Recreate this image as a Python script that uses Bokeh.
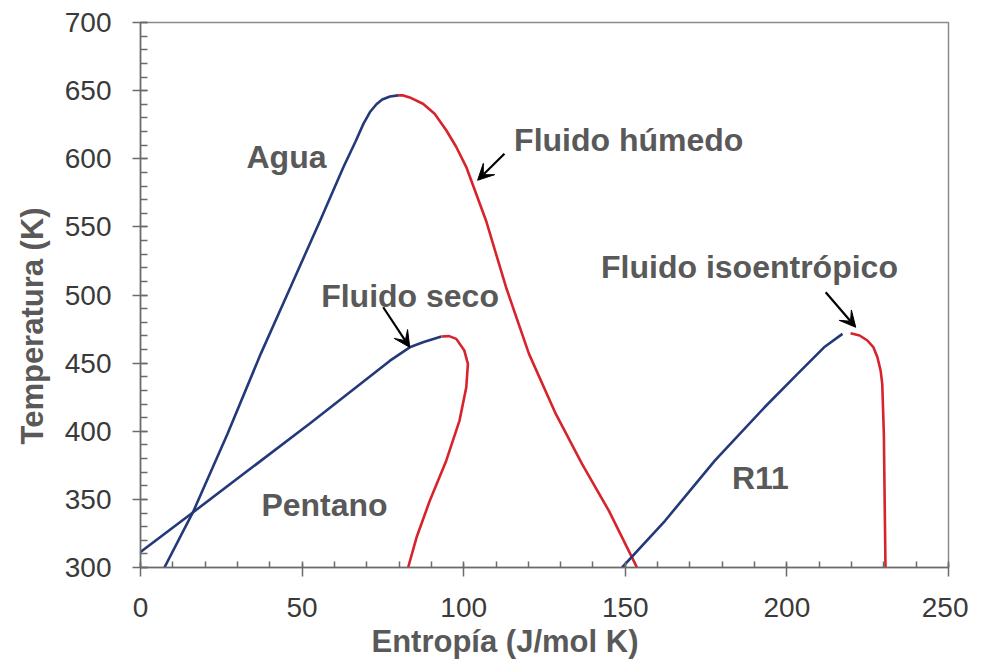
from bokeh.plotting import figure
from bokeh.models import Arrow, VeeHead, Title, Label, SingleIntervalTicker, Range1d
from bokeh.embed import file_html
from bokeh.resources import INLINE

# ---- data (entropy J/mol K, temperature K) ----
agua_liq_s = [7.4, 16.2, 26.9, 37.2, 46.4, 55.6, 62.8, 66.5, 69.0, 71.0, 73.0, 74.8, 77.2, 79.7]
agua_liq_T = [300, 340.4, 398, 456.8, 505.7, 554.7, 593.9, 612.5, 625.8, 634.3, 640.0, 643.5, 645.7, 646.5]
agua_vap_s = [79.7, 81.3, 83.3, 87.4, 91.0, 94.6, 97.7, 100.8, 106.9, 113.1, 120.2, 128.5, 136.6, 144.9, 153.1, 153.6]
agua_vap_T = [646.5, 646.5, 645.0, 640.4, 633.0, 620.9, 608.6, 593.9, 554.7, 505.7, 456.8, 412.7, 376, 341.7, 302.5, 300]

pent_liq_s = [0.0, 16.2, 52.6, 77.2, 83.3, 87.4, 93.1]
pent_liq_T = [311.4, 340.4, 406, 451.8, 461.6, 465.3, 469.5]
pent_vap_s = [93.1, 95.5, 97.7, 100.2, 101.3, 100.8, 98.7, 94.6, 89.5, 85.4, 82.8]
pent_vap_T = [469.5, 469.8, 467.8, 459.2, 449.4, 432.3, 407.8, 378.4, 349, 322, 300]

r11_liq_s = [149.0, 162.3, 177.7, 193.1, 203.3, 211.5, 217.2]
r11_liq_T = [300, 334.3, 378.4, 417.6, 442.1, 461.6, 471.5]
r11_vap_s = [219.7, 222.5, 224.9, 226.8, 228.0, 229.0, 229.5, 230.0, 230.5]
r11_vap_T = [471.9, 470.3, 466.6, 461.5, 454.3, 444.5, 434.8, 398, 300]

# annotations: (text, s, T) baseline-left
labels_txt = ["Agua", "Fluido húmedo", "Fluido seco", "Pentano", "Fluido isoentrópico", "R11"]
labels_s = [32.8, 115.6, 55.9, 37.4, 142.5, 183.0]
labels_T = [601.2, 613.5, 499.4, 345.6, 520.7, 365.6]

arrows_s0 = [112.6, 75.1, 212.0]
arrows_T0 = [603.7, 491.0, 502.0]
arrows_s1 = [104.3, 83.3, 221.3]
arrows_T1 = [584.2, 461.6, 476.3]

x_ticks_interval = 50
y_ticks_interval = 50

BLUE = "#24397a"
RED = "#d7232b"
TXT = "#595959"
AX = "#6b6b6b"

p = figure(width=968, height=665, output_backend="svg", toolbar_location=None,
           x_range=Range1d(0, 250), y_range=Range1d(300, 700),
           min_border_left=139, min_border_right=20, min_border_top=22, min_border_bottom=98)
p.background_fill_color = "white"
p.border_fill_color = "white"
p.outline_line_color = "#8a8a8a"
p.outline_line_width = 1.5
p.xgrid.visible = False
p.ygrid.visible = False

p.xaxis.ticker = SingleIntervalTicker(interval=x_ticks_interval, num_minor_ticks=5)
p.yaxis.ticker = SingleIntervalTicker(interval=y_ticks_interval, num_minor_ticks=5)
for ax in (p.xaxis[0], p.yaxis[0]):
    ax.axis_line_color = AX
    ax.axis_line_width = 1.5
    ax.major_tick_line_color = AX
    ax.minor_tick_line_color = AX
    ax.major_tick_line_width = 1.5
    ax.minor_tick_line_width = 1.5
    ax.major_label_text_font = "Liberation Sans"
    ax.major_label_text_font_size = "28px"
    ax.major_label_text_color = "#3a3a3a"
p.xaxis.major_label_standoff = 21
p.yaxis.major_label_standoff = 21
p.xaxis.major_tick_in = 4
p.xaxis.major_tick_out = 9
p.xaxis.minor_tick_in = 6
p.xaxis.minor_tick_out = 0
p.yaxis.major_tick_in = 7
p.yaxis.major_tick_out = 8
p.yaxis.minor_tick_in = 7
p.yaxis.minor_tick_out = 0

xt = Title(text="Entropía (J/mol K)", align="left", offset=231, text_font="Liberation Sans",
           text_font_size="31px", text_font_style="bold", text_color=TXT, standoff=4)
p.add_layout(xt, "below")
yt = Title(text="Temperatura (K)", align="left", offset=123, text_font="Liberation Sans",
           text_font_size="31px", text_font_style="bold", text_color=TXT, standoff=24)
p.add_layout(yt, "left")

lw = 2.6
p.line(agua_liq_s, agua_liq_T, line_color=BLUE, line_width=lw)
p.line(agua_vap_s, agua_vap_T, line_color=RED, line_width=lw)
p.line(pent_liq_s, pent_liq_T, line_color=BLUE, line_width=lw)
p.line(pent_vap_s, pent_vap_T, line_color=RED, line_width=lw)
p.line(r11_liq_s, r11_liq_T, line_color=BLUE, line_width=lw)
p.line(r11_vap_s, r11_vap_T, line_color=RED, line_width=lw)

for t, s, T in zip(labels_txt, labels_s, labels_T):
    p.add_layout(Label(x=s, y=T, text=t, text_font="Liberation Sans", text_font_size="32px",
                       text_font_style="bold", text_color=TXT, text_align="left",
                       text_baseline="alphabetic"))

for s0, T0, s1, T1 in zip(arrows_s0, arrows_T0, arrows_s1, arrows_T1):
    p.add_layout(Arrow(end=VeeHead(size=16, fill_color="black", line_color="black", line_width=1),
                       x_start=s0, y_start=T0, x_end=s1, y_end=T1,
                       line_color="black", line_width=2.2))

open("out.html", "w").write(file_html(p, INLINE))
